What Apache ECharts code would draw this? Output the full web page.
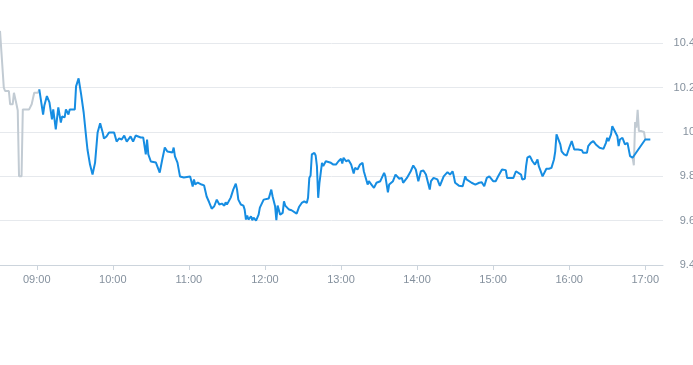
<!DOCTYPE html>
<html>
<head>
<meta charset="utf-8">
<script src="https://cdn.jsdelivr.net/npm/echarts@6/dist/echarts.min.js"></script>
<style>html,body{margin:0;padding:0;background:#fff;}#c{width:693px;height:365px;}</style>
</head>
<body>
<div id="c"></div>
<script>
// ---- data ----
const axisStart = '08:31';
const axisEnd = '17:14';
const xTickLabels = ['09:00','10:00','11:00','12:00','13:00','14:00','15:00','16:00','17:00'];
const yMin = 9.4, yMax = 10.6, yStep = 0.2;

const preTimes = ['08:31','08:34','08:35','08:38','08:39','08:41','08:42','08:44','08:45','08:46','08:48','08:49','08:54','08:56','08:58','09:01','09:02'];
const prePrices = [10.456,10.20,10.185,10.185,10.125,10.125,10.177,10.125,10.097,9.80,9.80,10.102,10.102,10.125,10.177,10.177,10.192];

const sessionTimes = ['09:02','09:05','09:06','09:07','09:08','09:10','09:12','09:13','09:15','09:16','09:17','09:19','09:20','09:22','09:23','09:25','09:26','09:30','09:31','09:33','09:35','09:37','09:39','09:40','09:42','09:43','09:44','09:46','09:48','09:50','09:52','09:53','09:55','09:57','09:58','10:01','10:03','10:05','10:07','10:09','10:11','10:14','10:16','10:18','10:22','10:24','10:26','10:27','10:28','10:30','10:34','10:35','10:37','10:39','10:41','10:43','10:44','10:47','10:48','10:49','10:51','10:53','10:56','11:01','11:03','11:04','11:05','11:07','11:10','11:12','11:14','11:16','11:18','11:20','11:22','11:24','11:25','11:26','11:28','11:29','11:30','11:31','11:33','11:35','11:37','11:38','11:39','11:41','11:43','11:44','11:45','11:46','11:47','11:49','11:50','11:51','11:53','11:55','11:56','11:59','12:00','12:03','12:05','12:06','12:08','12:09','12:10','12:12','12:14','12:15','12:16','12:19','12:21','12:25','12:27','12:29','12:31','12:33','12:34','12:35','12:36','12:37','12:39','12:40','12:41','12:42','12:43','12:44','12:45','12:46','12:48','12:52','12:54','12:56','12:58','13:00','13:01','13:02','13:04','13:06','13:08','13:10','13:11','13:13','13:15','13:17','13:18','13:21','13:22','13:24','13:26','13:28','13:31','13:34','13:35','13:37','13:38','13:41','13:43','13:46','13:48','13:49','13:52','13:55','13:57','13:59','14:01','14:03','14:05','14:07','14:08','14:10','14:11','14:13','14:16','14:18','14:21','14:24','14:26','14:28','14:29','14:30','14:33','14:36','14:38','14:39','14:43','14:46','14:49','14:51','14:53','14:55','14:57','15:00','15:02','15:04','15:05','15:07','15:08','15:10','15:11','15:14','15:16','15:18','15:19','15:22','15:23','15:25','15:26','15:27','15:29','15:31','15:33','15:35','15:36','15:37','15:39','15:40','15:42','15:44','15:46','15:48','15:49','15:50','15:51','15:53','15:54','15:56','15:58','16:00','16:02','16:03','16:04','16:07','16:10','16:11','16:14','16:15','16:17','16:19','16:21','16:22','16:24','16:27','16:29','16:30','16:31','16:32','16:33','16:34','16:35','16:36','16:38','16:39','16:40','16:42','16:43','16:44','16:46','16:47','16:48','16:50','17:00','17:04'];
const sessionPrices = [10.192,10.079,10.12,10.111,10.162,10.134,10.057,10.102,10.012,10.012,10.111,10.043,10.07,10.066,10.102,10.079,10.102,10.102,10.206,10.242,10.17,10.088,9.975,9.921,9.853,9.862,9.808,9.862,9.998,10.039,9.998,9.971,9.98,9.998,10.002,9.998,9.957,9.971,9.966,9.984,9.957,9.98,9.957,9.984,9.975,9.975,9.899,9.966,9.899,9.867,9.862,9.867,9.817,9.876,9.93,9.912,9.903,9.908,9.93,9.89,9.862,9.799,9.795,9.799,9.754,9.786,9.763,9.772,9.763,9.759,9.709,9.683,9.654,9.665,9.695,9.673,9.665,9.677,9.668,9.683,9.673,9.683,9.704,9.74,9.767,9.74,9.695,9.673,9.668,9.65,9.605,9.623,9.605,9.62,9.602,9.614,9.60,9.627,9.659,9.695,9.704,9.70,9.74,9.71,9.665,9.602,9.668,9.627,9.635,9.687,9.668,9.65,9.647,9.632,9.663,9.68,9.687,9.68,9.703,9.793,9.804,9.899,9.906,9.894,9.846,9.703,9.771,9.816,9.861,9.846,9.868,9.861,9.853,9.853,9.868,9.879,9.858,9.884,9.868,9.873,9.853,9.813,9.838,9.831,9.853,9.861,9.823,9.763,9.778,9.763,9.748,9.771,9.778,9.816,9.80,9.728,9.763,9.778,9.808,9.789,9.793,9.771,9.793,9.823,9.849,9.831,9.778,9.823,9.826,9.808,9.786,9.74,9.778,9.793,9.786,9.757,9.80,9.819,9.808,9.823,9.80,9.771,9.758,9.755,9.80,9.786,9.771,9.763,9.771,9.773,9.755,9.793,9.80,9.778,9.778,9.80,9.80,9.831,9.834,9.828,9.793,9.793,9.793,9.823,9.828,9.808,9.786,9.789,9.846,9.884,9.891,9.868,9.853,9.876,9.846,9.831,9.80,9.798,9.834,9.834,9.838,9.876,9.913,9.989,9.997,9.944,9.913,9.899,9.894,9.929,9.959,9.962,9.921,9.921,9.918,9.906,9.906,9.936,9.951,9.959,9.944,9.951,9.929,9.924,9.951,9.974,9.959,9.954,9.989,10.026,10.015,10.019,9.981,9.936,9.966,9.974,9.959,9.944,9.951,9.944,9.891,9.884,9.966,9.966];

const postTimes = ['16:50','16:51','16:52','16:53','16:54','16:55','16:57','16:59','17:00'];
const postPrices = [9.884,9.85,10.045,10.02,10.10,10.004,10.004,10.0,9.966];

// ---- helpers ----
function toMin(t){ const p = t.split(':'); return (+p[0])*60 + (+p[1]); }
function pad(n){ return (n<10?'0':'') + n; }
function fmt(m){ return pad(Math.floor(m/60)) + ':' + pad(Math.round(m%60)); }
function pairs(ts, vs){ return ts.map((t,i)=>[toMin(t), vs[i]]); }
const tickMins = xTickLabels.map(toMin);

const labelColor = '#84909d';
const font = 'Liberation Sans, Arial, sans-serif';

const chart = echarts.init(document.getElementById('c'), null, {renderer:'canvas'});
chart.setOption({
  animation: false,
  grid: { left: 0, right: 30, top: -1, bottom: 100, containLabel: false, outerBoundsMode: 'none' },
  xAxis: {
    type: 'value',
    min: toMin(axisStart),
    max: toMin(axisEnd),
    axisLine: { show: true, lineStyle: { color: '#ccd4dc', width: 1 } },
    axisTick: { show: true, length: 5, customValues: tickMins, lineStyle: { color: '#ccd4dc' } },
    axisLabel: { customValues: tickMins, formatter: v => fmt(v), color: labelColor, fontSize: 11, fontFamily: font, margin: 9 },
    splitLine: { show: false }
  },
  yAxis: {
    type: 'value',
    position: 'right',
    min: yMin, max: yMax, interval: yStep,
    axisLine: { show: false },
    axisTick: { show: false },
    axisLabel: { showMaxLabel: false, color: labelColor, fontSize: 11, fontFamily: font, align: 'right', margin: 32,
      formatter: v => String(Math.round(v*10)/10) },
    splitLine: { show: true, showMaxLine: false, lineStyle: { color: '#e6e9ed', width: 1 } }
  },
  series: [
    { type: 'line', data: pairs(preTimes, prePrices), showSymbol: false, symbol: 'none',
      lineStyle: { color: '#c2cbd3', width: 2 }, z: 1 },
    { type: 'line', data: pairs(postTimes, postPrices), showSymbol: false, symbol: 'none',
      lineStyle: { color: '#c2cbd3', width: 2 }, z: 1 },
    { type: 'line', data: pairs(sessionTimes, sessionPrices), showSymbol: false, symbol: 'none',
      lineStyle: { color: '#168de2', width: 2 }, z: 2 }
  ]
});
</script>
</body>
</html>
